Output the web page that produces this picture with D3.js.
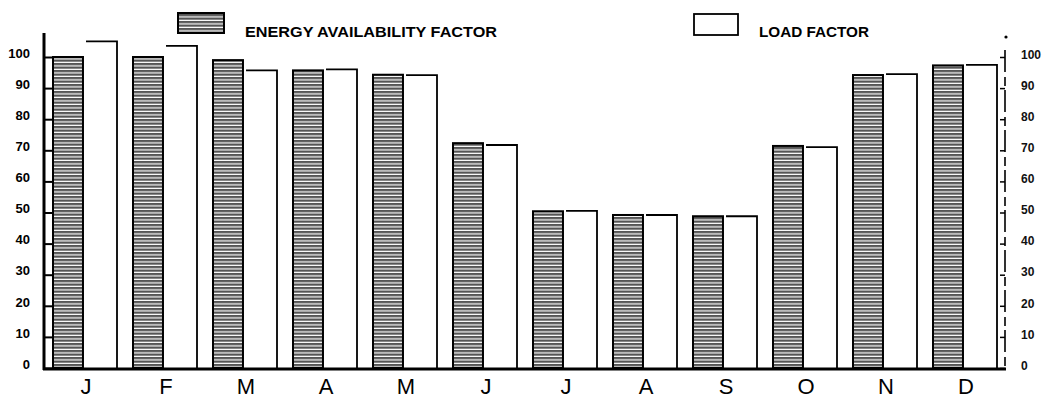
<!DOCTYPE html>
<html><head><meta charset="utf-8">
<script src="https://cdn.jsdelivr.net/npm/d3@7"></script>
<style>
html,body{margin:0;padding:0;background:#fff;}
svg{display:block;}
</style></head>
<body>
<svg id="chart" width="1046" height="399"></svg>
<script>
const months = ["J","F","M","A","M","J","J","A","S","O","N","D"];
const energyAvailability = [100, 100, 99, 95.7, 94.3, 72.3, 50.4, 49.2, 48.8, 71.4, 94.2, 97.3];
const loadFactor = [105, 103.6, 95.7, 96, 94.2, 71.7, 50.5, 49.2, 48.8, 71, 94.5, 97.5];
const yTicks = [0,10,20,30,40,50,60,70,80,90,100];
const seriesNames = ["ENERGY AVAILABILITY FACTOR", "LOAD FACTOR"];

const svg = d3.select("#chart");
const defs = svg.append("defs");
const pat = defs.append("pattern").attr("id","hatch").attr("patternUnits","userSpaceOnUse")
  .attr("width",8).attr("height",3.5);
pat.append("rect").attr("width",8).attr("height",3.5).attr("fill","#fff");
pat.append("rect").attr("width",8).attr("height",2.3).attr("fill","#555");

const idx = months.map((m,i)=>i);
const x = d3.scaleBand().domain(idx).range([52, 1012]).paddingInner(0).paddingOuter(0);
const xs = d3.scaleBand().domain(["eaf","lf"]).range([0,66]).paddingInner(0.06);
const y = d3.scaleLinear().domain([0,100]).range([368,57]);

// EAF bars
svg.append("g").selectAll("rect").data(energyAvailability).join("rect")
  .attr("x",(d,i)=>x(i)+xs("eaf")+1)
  .attr("y",d=>y(d))
  .attr("width",xs.bandwidth()-2)
  .attr("height",d=>y(0)-y(d))
  .attr("fill","url(#hatch)")
  .attr("stroke","#000").attr("stroke-width",2);

// LF bars (top + right edge)
svg.append("g").selectAll("path").data(loadFactor).join("path")
  .attr("d",(d,i)=>{
    const x0 = x(i)+xs("lf"), x1 = x0+xs.bandwidth()-1;
    return `M${x0},${y(d)}H${x1}V${y(0)}`;
  })
  .attr("fill","none").attr("stroke","#000").attr("stroke-width",1.8);

// baseline
svg.append("line").attr("x1",43).attr("x2",1006).attr("y1",y(0)+1).attr("y2",y(0)+1)
  .attr("stroke","#000").attr("stroke-width",3);

// left axis
const la = svg.append("g").attr("transform","translate(44,0)")
  .call(d3.axisLeft(y).tickValues(yTicks).tickSizeInner(-8).tickSizeOuter(0).tickPadding(14));
la.select(".domain").remove();
la.selectAll(".tick line").attr("stroke","#000").attr("stroke-width",2);
la.selectAll(".tick text").attr("font-family","Liberation Sans, Arial, sans-serif")
  .attr("font-weight","bold").attr("font-size",13).attr("fill","#000").attr("dy","0.02em");
svg.append("line").attr("x1",44).attr("x2",44).attr("y1",33).attr("y2",y(0)+2)
  .attr("stroke","#000").attr("stroke-width",3);

// right axis
const ra = svg.append("g").attr("transform","translate(1005,0)")
  .call(d3.axisRight(y).tickValues(yTicks).tickSizeInner(-5).tickSizeOuter(0).tickPadding(16));
ra.select(".domain").remove();
ra.selectAll(".tick line").attr("stroke","#000").attr("stroke-width",1.5);
ra.selectAll(".tick text").attr("font-family","Liberation Sans, Arial, sans-serif")
  .attr("font-weight","bold").attr("font-size",12).attr("fill","#111").attr("dy","0.1em");
svg.append("line").attr("x1",1005).attr("x2",1005).attr("y1",50).attr("y2",y(0))
  .attr("stroke","#000").attr("stroke-width",1.6).attr("stroke-dasharray","22 5 9 4");
svg.append("circle").attr("cx",1006).attr("cy",37).attr("r",1.6).attr("fill","#000");

// month labels
svg.append("g").selectAll("text").data(months).join("text")
  .attr("x",(d,i)=>x(i)+xs("lf"))
  .attr("y",394)
  .attr("text-anchor","middle")
  .attr("font-family","Liberation Sans, Arial, sans-serif")
  .attr("font-size",22)
  .attr("fill","#000")
  .text(d=>d);

// legend
const lg = svg.append("g");
lg.append("rect").attr("x",178).attr("y",13).attr("width",46).attr("height",20)
  .attr("fill","url(#hatch)").attr("stroke","#000").attr("stroke-width",2);
lg.append("text").attr("x",245).attr("y",37).attr("font-family","Liberation Sans, Arial, sans-serif")
  .attr("font-weight","bold").attr("font-size",15.5).attr("textLength",252).attr("lengthAdjust","spacingAndGlyphs")
  .text(seriesNames[0]);
lg.append("rect").attr("x",694).attr("y",14).attr("width",44).attr("height",21)
  .attr("fill","#fff").attr("stroke","#000").attr("stroke-width",1.8);
lg.append("text").attr("x",759).attr("y",37).attr("font-family","Liberation Sans, Arial, sans-serif")
  .attr("font-weight","bold").attr("font-size",15.5).attr("textLength",110).attr("lengthAdjust","spacingAndGlyphs")
  .text(seriesNames[1]);
</script>
</body></html>
